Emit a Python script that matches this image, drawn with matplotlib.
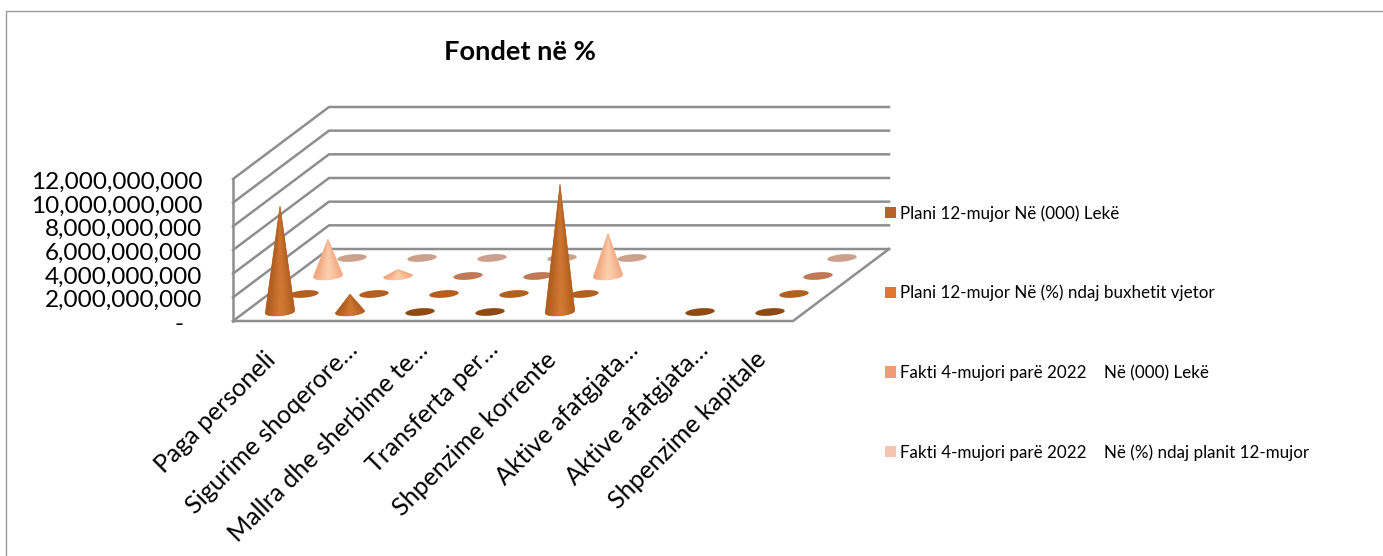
import numpy as np
import matplotlib
matplotlib.use('Agg')
import matplotlib.pyplot as plt
from matplotlib.collections import PolyCollection
from matplotlib.colors import to_rgb
from matplotlib.lines import Line2D
from matplotlib.patches import Patch
from matplotlib.transforms import ScaledTranslation

categories = ['Paga personeli', 'Sigurime shoqerore…', 'Mallra dhe sherbime te…', 'Transferta per…',
              'Shpenzime korrente', 'Aktive afatgjata…', 'Aktive afatgjata…', 'Shpenzime kapitale']
series_names = ['Plani 12-mujor Në (000) Lekë',
                'Plani 12-mujor Në (%) ndaj buxhetit vjetor',
                'Fakti 4-mujori parë 2022    Në (000) Lekë',
                'Fakti 4-mujori parë 2022    Në (%) ndaj planit 12-mujor']
nan = float('nan')
plan_lek = [8950000000, 1500000000, 0, 0, 10800000000, nan, 0, 0]
plan_pct = [0, 0, 0, 0, 0, nan, nan, 0]
fact_lek = [3100000000, 550000000, 0, 0, 3600000000, nan, nan, 0]
fact_pct = [0, 0, 0, 0, 0, nan, nan, 0]
y_ticks = [0, 2000000000, 4000000000, 6000000000, 8000000000, 10000000000, 12000000000]
y_labels = ['-   ', '2,000,000,000', '4,000,000,000', '6,000,000,000',
            '8,000,000,000', '10,000,000,000', '12,000,000,000']

series = [plan_lek, plan_pct, fact_lek, fact_pct]
legend_colors = ['#B8622A', '#E0752E', '#F09B78', '#F5C4B0']
flat_colors = ['#8F4A14', '#B45F1E', '#BF7A55', '#CBA08C']
cone_dark = ['#A3561A', '#A9591A', '#EE9E74', '#EDB59C']
cone_light = ['#D47A35', '#E08A45', '#FFD2B2', '#FFE4D4']

W, H = 1383, 556
GRID = '#8E8E8E'
FONT = 'Lato'

# size of the chart box in axis units
px_x = 8 / 560
px_y = 12e9 / 142
depth_x = 96 * px_x
depth_y = 72 * px_y
r_x = 14.7 * px_x
r_y = 3.7 * px_y
tilt = 1.2 * px_y

plt.rcParams['font.family'] = [FONT, 'DejaVu Sans']

fig = plt.figure(figsize=(W / 100, H / 100), dpi=100, facecolor='white')
ax = fig.add_axes([233 / W, (H - 321) / H, 560 / W, 142 / H])
ax.set_xlim(0, 8)
ax.set_ylim(0, 12e9)
ax.patch.set_visible(False)
for s in ax.spines.values():
    s.set_visible(False)

# walls and floor
for v in y_ticks:
    ax.plot([0, depth_x, 8 + depth_x], [v, v + depth_y, v + depth_y], color=GRID, lw=1.8, clip_on=False, zorder=1)
ax.plot([0, 0], [0, 12e9], color=GRID, lw=1.8, clip_on=False, zorder=1)
ax.plot([0, 8, 8 + depth_x], [0, 0, depth_y], color=GRID, lw=1.8, clip_on=False, zorder=1)

t = np.linspace(0, 2 * np.pi, 121)


def base_xy(cx, cy, angle):
    return cx + r_x * np.cos(angle), cy + r_y * np.sin(angle) + tilt * np.cos(angle)


def draw_cone(cx, cy, value, d, z):
    if value <= 0:
        x, y = base_xy(cx, cy, t)
        ax.fill(x, y, color=flat_colors[d], lw=0, clip_on=False, zorder=z)
        return
    # front half of the cone, evenly wide slices across the screen
    a = 2 * np.pi - np.arccos(np.linspace(-1, 1, 31))
    bx, by = base_xy(cx, cy, a)
    dark = np.array(to_rgb(cone_dark[d]))
    light = np.array(to_rgb(cone_light[d]))
    # solid cone underneath so no background shows between the slices
    ax.fill(np.r_[cx, bx], np.r_[cy + value, by], color=(dark + light) / 2, lw=0.5, clip_on=False, zorder=z)
    polys = []
    cols = []
    for i in range(30):
        u = (np.cos(a[i]) + np.cos(a[i + 1])) / 2
        w = np.exp(-((u - 0.08) / 0.75) ** 2)
        polys.append([(cx, cy + value), (bx[i], by[i]), (bx[i + 1], by[i + 1])])
        cols.append(dark + (light - dark) * w)
    ax.add_collection(PolyCollection(polys, facecolors=cols, edgecolors='none',
                                     clip_on=False, zorder=z), autolim=False)


# back series first so the front ones cover them
for d in range(3, -1, -1):
    frac = (2 * d + 1) / 8
    for i, val in enumerate(series[d]):
        if np.isnan(val):
            continue
        draw_cone(i + 0.5 + frac * depth_x, frac * depth_y, val, d, 5 + (3 - d))

ax.set_yticks(y_ticks)
ax.set_yticklabels(y_labels, fontsize=17.5)
ax.set_xticks(np.arange(8) + 0.5)
ax.set_xticklabels(categories, fontsize=18, rotation=45, ha='right', va='top', rotation_mode='anchor')
ax.tick_params(length=0)
ax.tick_params(axis='y', pad=22)
ax.tick_params(axis='x', pad=12)
for lab in ax.get_yticklabels():
    lab.set_transform(lab.get_transform() + ScaledTranslation(0, -1.5 / 100, fig.dpi_scale_trans))
# shortened labels sit higher than the complete ones
for lab in ax.get_xticklabels():
    if lab.get_text().endswith('…'):
        off = ScaledTranslation(8 / 100, 0, fig.dpi_scale_trans)
    else:
        off = ScaledTranslation(-4 / 100, -10 / 100, fig.dpi_scale_trans)
    lab.set_transform(lab.get_transform() + off)

fig.text(520 / W, 1 - 52 / H, 'Fondet në %', fontsize=19.6, fontweight='bold', ha='center', va='center', color='black')

handles = [Patch(facecolor=c, edgecolor='none') for c in legend_colors]
fig.legend(handles, series_names, loc='upper left', bbox_to_anchor=(885 / W, 1 - 205 / H), frameon=False,
           fontsize=12.25, labelspacing=3.71, handlelength=0.65, handleheight=0.65, handletextpad=0.25,
           borderpad=0, borderaxespad=0)

# chart frame
fig.add_artist(Line2D([6 / W, 6 / W, 1], [0, 1 - 11 / H, 1 - 11 / H], color='#9A9A9A', lw=1))

fig.savefig('out.png', dpi=100, facecolor='white')
